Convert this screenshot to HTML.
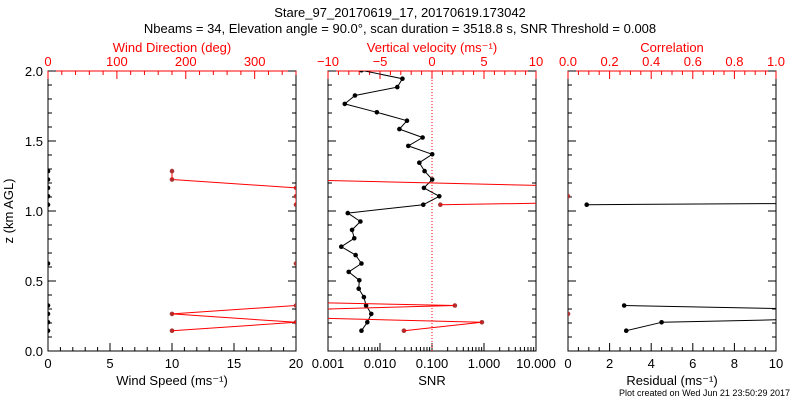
<!DOCTYPE html>
<html><head><meta charset="utf-8"><style>
body{margin:0;background:#fff;width:800px;height:400px;overflow:hidden}
svg{font-family:"Liberation Sans",sans-serif}
</style></head><body>
<svg id="c" width="800" height="400" xmlns="http://www.w3.org/2000/svg">
<defs>
<clipPath id="cp1"><rect x="48" y="71" width="248" height="280"/></clipPath>
<clipPath id="cp2"><rect x="328" y="71" width="208" height="280"/></clipPath>
<clipPath id="cp3"><rect x="568" y="71" width="208" height="280"/></clipPath>
</defs>
<text x="400" y="17" font-size="13" text-anchor="middle">Stare_97_20170619_17, 20170619.173042</text>
<text x="400" y="33" font-size="13" text-anchor="middle">Nbeams = 34, Elevation angle = 90.0°, scan duration = 3518.8 s, SNR Threshold = 0.008</text>
<text x="790" y="396" font-size="9" text-anchor="end">Plot created on Wed Jun 21 23:50:29 2017</text>
<text transform="translate(13,211) rotate(-90)" font-size="13" text-anchor="middle">z (km AGL)</text>
<g id="g"></g>
</svg>
<script>
// Data (gate index i: z = 0.145 + 0.06*i); null = missing; values beyond axis range are off-scale
const heights = Array.from({length:32},(_,i)=>+(0.145+0.06*i).toFixed(3));
const windSpeed = [0,0,0,0,null,null,null,null,0,null,null,null,null,null,null,0,0,0,0,0,null,null,null,null,null,null,null,null,null,null,null,null];
const windDir = [180,360,180,360,null,null,null,null,360,null,null,null,null,null,null,360,360,360,180,180,null,null,null,null,null,null,null,null,null,null,null,null];
const snr = [0.0044,0.0057,0.0068,0.0054,0.0049,0.0039,0.0040,0.0025,0.0044,0.0034,0.0018,0.0032,0.0029,0.0042,0.0024,0.068,0.138,0.070,0.101,0.072,0.057,0.101,0.035,0.066,0.0236,0.033,0.0087,0.0021,0.0033,0.0215,0.027,0.0044];
const vvel = [-2.7,4.8,-27,2.2,-37,null,null,null,null,null,null,null,null,null,null,0.8,55,20.3,-14,null,null,null,null,null,null,null,null,null,null,null,null,null];
const residual = [2.8,4.5,23,2.7,null,null,null,null,null,null,null,null,null,null,null,0.9,70,null,null,null,null,null,null,null,null,null,null,null,null,null,null,null];
const correlation = [null,null,0,null,null,null,null,null,null,null,null,null,null,null,null,null,0,null,null,null,null,null,null,null,null,null,null,null,null,null,null,null];
const ns="http://www.w3.org/2000/svg", G=document.getElementById('g');
const Y0=71,Y1=351; const yS=z=>Y1-(z/2)*(Y1-Y0);
function el(t,a,p){const e=document.createElementNS(ns,t);for(const k in a)e.setAttribute(k,a[k]);(p||G).appendChild(e);return e;}
function txt(x,y,s,fill,name,anchor){const e=el('text',{x:x,y:y,'font-size':13,fill:fill,'text-anchor':anchor||'middle'});e.textContent=s;


return e;}
const panels=[{x0:48,x1:296,cp:'cp1'},{x0:328,x1:536,cp:'cp2'},{x0:568,x1:776,cp:'cp3'}];
panels.forEach((p,k)=>{
 const r=el('rect',{x:p.x0,y:Y0,width:p.x1-p.x0,height:Y1-Y0,fill:'none',stroke:'#000'});
 
 
 el('line',{x1:p.x0,y1:Y0,x2:p.x1,y2:Y0,stroke:'red'});
 for(let j=0;j<=20;j++){const z=j*0.1,y=yS(z),L=j%5==0?8:4;
  el('line',{x1:p.x0,y1:y,x2:p.x0+L,y2:y,stroke:'#000'});el('line',{x1:p.x1,y1:y,x2:p.x1-L,y2:y,stroke:'#000'});
  if(k==0&&j%5==0)txt(43,y+5,z.toFixed(1),'#000','y-tick-label','end');}
});
function linTicks(p,min,max,step,minor,labels,top,col,fmt,name){
 const xs=v=>p.x0+(v-min)/(max-min)*(p.x1-p.x0);
 for(let v=min;v<=max+1e-9;v+=minor){const x=xs(v);const maj=Math.abs(Math.round((v-min)/step)*step-(v-min))<1e-6;const L=maj?8:4;
  if(top)el('line',{x1:x,y1:Y0,x2:x,y2:Y0+L,stroke:col});else el('line',{x1:x,y1:Y1,x2:x,y2:Y1-L,stroke:col});}
 labels.forEach(v=>txt(xs(v),top?Y0-5:Y1+17,fmt(v),col,name));
 return xs;}
const wsLabels=[0,5,10,15,20], wdLabels=[0,100,200,300], vvLabels=[-10,-5,0,5,10], snrLabels=[0.001,0.01,0.1,1,10], corLabels=[0,0.2,0.4,0.6,0.8,1], resLabels=[0,2,4,6,8,10];
const P=panels;
const xWS=linTicks(P[0],0,20,5,1,wsLabels,false,'#000',v=>String(v),'x-tick-wind-speed');
const xWD=linTicks(P[0],0,360,100,20,wdLabels,true,'red',v=>String(v),'x-tick-wind-direction');
const xVV=linTicks(P[1],-10,10,5,1,vvLabels,true,'red',v=>v<0?'\u2212'+(-v):String(v),'x-tick-vertical-velocity');
const xCo=linTicks(P[2],0,1,0.2,0.05,corLabels,true,'red',v=>v.toFixed(1),'x-tick-correlation');
const xRe=linTicks(P[2],0,10,2,0.5,resLabels,false,'#000',v=>String(v),'x-tick-residual');
const xSN=v=>P[1].x0+(Math.log10(v)+3)/4*(P[1].x1-P[1].x0);
for(let d=-3;d<1;d++)for(let m=1;m<10;m++){const x=xSN(m*Math.pow(10,d));el('line',{x1:x,y1:Y1,x2:x,y2:Y1-(m==1?8:4),stroke:'#000'});}
el('line',{x1:xSN(10),y1:Y1,x2:xSN(10),y2:Y1-8,stroke:'#000'});
snrLabels.forEach(v=>txt(xSN(v),Y1+17,v.toFixed(3),'#000','x-tick-snr'));
[[172,385,'Wind Speed (ms⁻¹)','#000','x-axis-title-wind-speed'],[172,52,'Wind Direction (deg)','red','x-axis-title-wind-direction'],
 [432,52,'Vertical velocity (ms⁻¹)','red','x-axis-title-vertical-velocity'],[432,385,'SNR','#000','x-axis-title-snr'],
 [672,52,'Correlation','red','x-axis-title-correlation'],[672,385,'Residual (ms⁻¹)','#000','x-axis-title-residual']].forEach(a=>txt(...a));
const zl=el('line',{x1:xVV(0),y1:Y0,x2:xVV(0),y2:Y1,stroke:'red','stroke-dasharray':'1,2'});


function series(vals,xs,col,dot,cp,name,lo,hi){
 const g=el('g',{'clip-path':'url(#'+cp+')'});
 
 
 let prev=null;
 vals.forEach((v,i)=>{if(v===null){prev=null;return;}
  const x=xs(v),y=yS(heights[i]);
  if(prev)el('line',{x1:prev[0],y1:prev[1],x2:x,y2:y,stroke:col},g);
  el('circle',{cx:x,cy:y,r:2.3,fill:dot},g);prev=[x,y];});}
series(windSpeed,xWS,'#000','#000','cp1','wind-speed-series');
series(windDir,xWD,'red','#a33','cp1','wind-direction-series');
series(snr,xSN,'#000','#000','cp2','snr-series');
series(vvel,xVV,'red','#a33','cp2','vertical-velocity-series');
series(residual,xRe,'#000','#000','cp3','residual-series');
series(correlation,xCo,'red','#a33','cp3','correlation-series');
</script>
</body></html>
